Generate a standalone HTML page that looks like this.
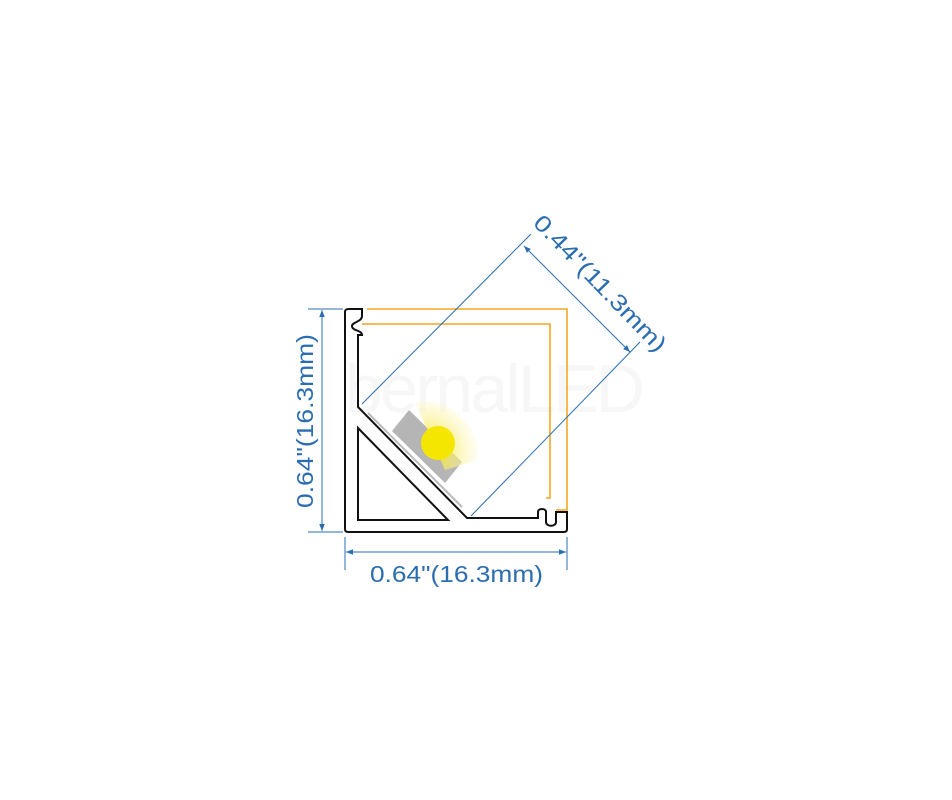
<html><body style="margin:0;background:#fff">
<svg width="952" height="800" viewBox="0 0 952 800" xmlns="http://www.w3.org/2000/svg" font-family="Liberation Sans, sans-serif">
<defs>
<marker id="a" viewBox="0 0 10 10" refX="10" refY="5" markerWidth="7" markerHeight="7" orient="auto-start-reverse"><path d="M0,1L10,5L0,9z" fill="#2a6db0"/></marker>
<radialGradient id="g" cx="0.2" cy="0.75" r="0.9"><stop offset="0" stop-color="#f4e000"/><stop offset="1" stop-color="#fff" stop-opacity="0.3"/></radialGradient>
</defs>
<text x="345" y="412" font-size="68" fill="#f7f7f7" textLength="300" lengthAdjust="spacing">bernalLED</text>
<path d="M367,309 H567 V510 H556" fill="none" stroke="#f5a623" stroke-width="1.6"/>
<path d="M377,324 H550 V498 H546" fill="none" stroke="#f5a623" stroke-width="1.6"/>
<path d="M362,324 H377" fill="none" stroke="#f5a623" stroke-width="1.6"/>
<polygon points="392,431 409,410 462,462 445,483" fill="#b5b5b5"/>
<line x1="368" y1="413" x2="462" y2="507" stroke="#bbb" stroke-width="2"/>
<path d="M415,402 A55,55 0 0 1 478,460 L445,470 Z" fill="url(#g)"/>
<circle cx="438" cy="443" r="17" fill="#f5e600"/>
<path d="M349,309 H362 V316 C362,322 352,322 352,326 C352,331 362,330 362,335 H358 V407 L467,518 H538 V512 C538,508 546,508 546,512 V522 C546,527 556,527 556,522 V512 H567 V529 C567,531 566,532 564,532 H348 C346,532 345,531 345,529 V312 C345,310 346,309 349,309 Z" fill="none" stroke="#111" stroke-width="2"/>
<polygon points="358,428 358,520 448,520" fill="none" stroke="#111" stroke-width="2"/>
<g stroke="#2a6db0" stroke-width="1" fill="none">
<line x1="362" y1="404" x2="531" y2="234"/>
<line x1="471" y1="516" x2="640" y2="342"/>
<line x1="524" y1="246" x2="630" y2="352" marker-start="url(#a)" marker-end="url(#a)"/>
<line x1="308" y1="309" x2="343" y2="309"/>
<line x1="308" y1="532" x2="343" y2="532"/>
<line x1="322" y1="310" x2="322" y2="531" marker-start="url(#a)" marker-end="url(#a)"/>
<line x1="345" y1="537" x2="345" y2="570"/>
<line x1="567" y1="537" x2="567" y2="570"/>
<line x1="346" y1="552" x2="566" y2="552" marker-start="url(#a)" marker-end="url(#a)"/>
</g>
<g fill="#2a6db0" font-size="23">
<text x="370" y="582" textLength="173" lengthAdjust="spacingAndGlyphs">0.64"(16.3mm)</text>
<text transform="translate(313,508) rotate(-90)" textLength="174" lengthAdjust="spacingAndGlyphs">0.64"(16.3mm)</text>
<text transform="translate(532,224) rotate(46)" textLength="180" lengthAdjust="spacingAndGlyphs">0.44"(11.3mm)</text>
</g>
</svg>
</body></html>
